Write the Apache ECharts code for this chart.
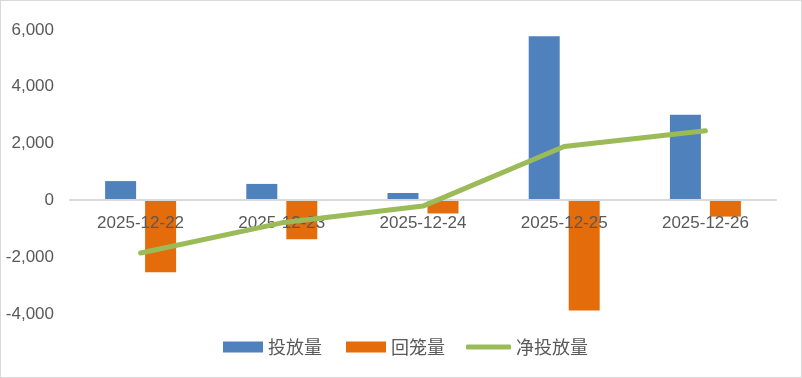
<!DOCTYPE html>
<html>
<head>
<meta charset="utf-8">
<script src="https://cdn.jsdelivr.net/npm/echarts@6/dist/echarts.min.js"></script>
<style>
html,body{margin:0;padding:0;background:#fff;}
#c{width:802px;height:378px;box-sizing:border-box;border:1px solid #D9D9D9;}
</style>
</head>
<body>
<div id="c"></div>
<script>
const categories = ['2025-12-22','2025-12-23','2025-12-24','2025-12-25','2025-12-26'];
const injection = [680, 580, 260, 5780, 3020];
const withdrawal = [-2530, -1370, -460, -3880, -570];
const netInjection = [-1850, -790, -200, 1900, 2450];
const seriesNames = ['投放量','回笼量','净投放量'];

const chart = echarts.init(document.getElementById('c'));
const labelFont = '"Liberation Sans", Arial, sans-serif';
const legendText = {fontFamily: '"Noto Sans CJK SC", sans-serif', fontSize: 18, color: '#595959'};
const gridTop = 29, gridBottom = 63, yMin = -4000, yMax = 6000;
const gridH = 378 - gridTop - gridBottom;
const zeroOffset = -gridH * (0 - yMin) / (yMax - yMin);
chart.setOption({
  animation: false,
  grid: {left: 69, right: 25, top: gridTop, bottom: gridBottom, containLabel: false},
  legend: [
    {left: 222, top: 337, padding: 0, itemWidth: 40, itemHeight: 11, itemGap: 0, textStyle: legendText,
     data: [{name: seriesNames[0], icon: 'rect'}]},
    {left: 345, top: 337, padding: 0, itemWidth: 40, itemHeight: 11, itemGap: 0, textStyle: legendText,
     data: [{name: seriesNames[1], icon: 'rect'}]},
    {left: 465, top: 337, padding: 0, itemWidth: 45, itemHeight: 5, itemGap: 0, textStyle: legendText,
     data: [{name: seriesNames[2], icon: 'roundRect'}]}
  ],
  xAxis: {
    type: 'category',
    data: categories,
    offset: zeroOffset,
    axisLine: {onZero: false, lineStyle: {color: '#D9D9D9', width: 2}},
    axisTick: {show: false},
    axisLabel: {color: '#595959', fontSize: 17, fontFamily: labelFont, margin: 15},
    z: 5
  },
  yAxis: {
    type: 'value',
    min: yMin,
    max: yMax,
    interval: 2000,
    axisLine: {show: false},
    axisTick: {show: false},
    splitLine: {show: false},
    axisLabel: {
      color: '#595959', fontSize: 17, fontFamily: labelFont, margin: 16,
      formatter: v => v.toLocaleString('en-US')
    }
  },
  series: [
    {name: seriesNames[0], type: 'bar', data: injection, barWidth: 31, barGap: '29%',
     itemStyle: {color: '#4F81BD'}},
    {name: seriesNames[1], type: 'bar', data: withdrawal, barWidth: 31,
     itemStyle: {color: '#E46C0A'}},
    {name: seriesNames[2], type: 'line', data: netInjection, symbol: 'none', showSymbol: false,
     lineStyle: {color: '#9BBB59', width: 5, cap: 'round', join: 'round'},
     itemStyle: {color: '#9BBB59'}, z: 10}
  ]
});
</script>
</body>
</html>
